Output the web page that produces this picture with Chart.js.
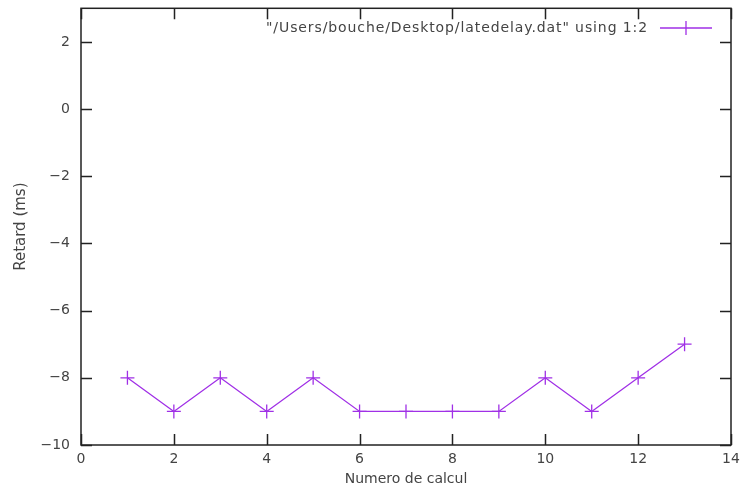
<!DOCTYPE html>
<html><head><meta charset="utf-8">
<script src="https://cdn.jsdelivr.net/npm/chart.js@4/dist/chart.umd.min.js"></script>
<style>html,body{margin:0;padding:0;background:#fff}#wrap{width:749px;height:490px}</style>
</head><body><div id="wrap"><canvas id="c" width="749" height="490"></canvas></div>
<script>
const xValues = [1,2,3,4,5,6,7,8,9,10,11,12,13];
const yValues = [-8,-9,-8,-9,-8,-9,-9,-9,-9,-8,-9,-8,-7];
const xTicks = [0,2,4,6,8,10,12,14];
const yTicks = [-10,-8,-6,-4,-2,0,2];
const seriesLabel = '"/Users/bouche/Desktop/latedelay.dat" using 1:2';
const xTitle = 'Numero de calcul';
const yTitle = 'Retard (ms)';

const FONT = '"DejaVu Sans", sans-serif';
const TXT = '#444444';
const LINE = '#a030e6';

const frame = {
  id: 'frame',
  afterDatasetsDraw(chart) {
    const {ctx, chartArea: a, scales: {x, y}} = chart;
    ctx.save();
    ctx.strokeStyle = '#222';
    ctx.lineWidth = 1.5;
    ctx.strokeRect(a.left, a.top, a.right - a.left, a.bottom - a.top);
    const T = 11;
    ctx.beginPath();
    xTicks.forEach(v => {
      const px = Math.round(x.getPixelForValue(v)) + 0.5;
      ctx.moveTo(px, a.bottom); ctx.lineTo(px, a.bottom - T);
      ctx.moveTo(px, a.top); ctx.lineTo(px, a.top + T);
    });
    yTicks.forEach(v => {
      const py = Math.round(y.getPixelForValue(v)) + 0.5;
      ctx.moveTo(a.left, py); ctx.lineTo(a.left + T, py);
      ctx.moveTo(a.right, py); ctx.lineTo(a.right - T, py);
    });
    ctx.stroke();
    // legend
    ctx.font = '14px ' + FONT;
    ctx.letterSpacing = '0.9px';
    ctx.fillStyle = TXT;
    ctx.textAlign = 'right';
    ctx.textBaseline = 'middle';
    const ly = 28;
    ctx.fillText(chart.data.datasets[0].label, 648, ly);
    ctx.letterSpacing = '0px';
    ctx.strokeStyle = LINE;
    ctx.lineWidth = 1.3;
    ctx.beginPath();
    ctx.moveTo(660, ly); ctx.lineTo(712, ly);
    ctx.moveTo(686, ly - 7); ctx.lineTo(686, ly + 7);
    ctx.stroke();
    ctx.restore();
  }
};

new Chart(document.getElementById('c'), {
  type: 'scatter',
  data: {
    datasets: [{
      label: seriesLabel,
      data: xValues.map((v, i) => ({x: v, y: yValues[i]})),
      showLine: true,
      borderColor: LINE,
      borderWidth: 1.3,
      pointStyle: 'cross',
      pointRadius: 7,
      pointBorderColor: LINE,
      pointBorderWidth: 1.3,
      backgroundColor: LINE
    }]
  },
  options: {
    responsive: false,
    animation: false,
    events: [],
    layout: {padding: {top: 7, right: 18, left: 0, bottom: 0}},
    plugins: {legend: {display: false}, tooltip: {enabled: false}},
    scales: {
      x: {
        type: 'linear', min: 0, max: 14,
        afterBuildTicks: s => { s.ticks = xTicks.map(v => ({value: v})); },
        afterFit: s => { s.height = 45; s.paddingLeft = 0; s.paddingRight = 0; },
        grid: {display: false, drawTicks: false},
        border: {display: false},
        ticks: {color: TXT, font: {family: FONT, size: 14}, padding: 6, maxRotation: 0,
                callback: v => String(v).replace('-', '\u2212')},
        title: {display: true, text: xTitle, color: TXT, font: {family: FONT, size: 14}, padding: {top: 0, bottom: 2}}
      },
      y: {
        type: 'linear', min: -10, max: 3,
        afterBuildTicks: s => { s.ticks = yTicks.map(v => ({value: v})); },
        afterFit: s => { s.width = 81; s.paddingTop = 0; s.paddingBottom = 0; },
        grid: {display: false, drawTicks: false},
        border: {display: false},
        ticks: {color: TXT, font: {family: FONT, size: 14}, padding: 11,
                callback: v => String(v).replace('-', '\u2212')},
        title: {display: true, text: yTitle, color: TXT, font: {family: FONT, size: 15}, padding: {top: 12, bottom: 0}}
      }
    }
  },
  plugins: [frame]
});
</script></body></html>
